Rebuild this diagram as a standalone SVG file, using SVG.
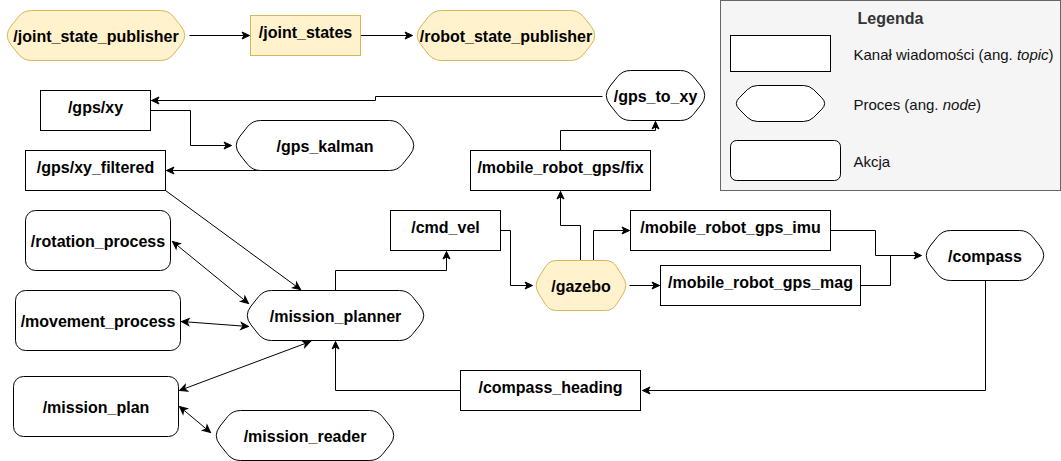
<svg xmlns="http://www.w3.org/2000/svg" width="1061" height="461" viewBox="0 0 1061 461">
<style>
.n{fill:#fff;stroke:#000;stroke-width:1}
.y{fill:#fff2cc;stroke:#d6b656;stroke-width:1}
.t{font-family:"Liberation Sans",Arial,sans-serif;font-size:16px;font-weight:bold;text-anchor:middle;fill:#000}
.l{font-family:"Liberation Sans",Arial,sans-serif;font-size:15px;fill:#111}
.c{fill:none;stroke:#000;stroke-width:1}
.e{marker-end:url(#a)}
.b{marker-start:url(#a);marker-end:url(#a)}
</style>
<defs>
<marker id="a" viewBox="-9 -5 10 10" refX="0" refY="0" markerWidth="10" markerHeight="10" markerUnits="userSpaceOnUse" orient="auto-start-reverse">
<path d="M0,0 L-7.5,-3.5 L-5.5,0 L-7.5,3.5 Z" fill="#000" stroke="#000" stroke-width="1"/>
</marker>
</defs>
<g transform="translate(0.5,0.5)">
<g id="legend">
<rect x="720" y="0" width="340" height="190" fill="#f5f5f5" stroke="#666666"/>
<text x="890" y="23" class="t" style="fill:#333333">Legenda</text>
<rect x="730" y="35" width="100" height="36" class="n"/>
<text x="853" y="59" class="l">Kanał wiadomości (ang. <tspan font-style="italic">topic</tspan>)</text>
<path class="n" d="M757,85 H803 Q809,85 813.2,89.2 L821.3,97.3 Q827,103 821.3,108.7 L813.2,116.8 Q809,121 803,121 H757 Q751,121 746.8,116.8 L738.7,108.7 Q733,103 738.7,97.3 L746.8,89.2 Q751,85 757,85 Z"/>
<text x="853" y="109" class="l">Proces (ang. <tspan font-style="italic">node</tspan>)</text>
<rect x="730" y="140" width="110" height="40" rx="6" class="n"/>
<text x="853" y="166" class="l">Akcja</text>
</g>
<g id="connectors">
<path class="c e" d="M189,35 H249"/>
<path class="c e" d="M360,35 H412"/>
<path class="c e" d="M602,96 H375 V100 H151"/>
<path class="c e" d="M150,110 H190 V145 H231"/>
<path class="c e" d="M324,170 H166"/>
<path class="c e" d="M560,150 V130 H655 V121"/>
<path class="c e" d="M580,260 V225 H560 V191"/>
<path class="c e" d="M593,260 V230 H629"/>
<path class="c e" d="M629,285 H659"/>
<path class="c e" d="M500,230 H510 V285 H532"/>
<path class="c e" d="M335,290 V270 H446 V251"/>
<path class="c e" d="M830,230 H875 V255 H921"/>
<path class="c" d="M860,285 H890 V255"/>
<path class="c e" d="M985,280 V390 H642"/>
<path class="c e" d="M460,390 H335 V341"/>
<path class="c e" d="M165,190 L300,289"/>
<path class="c b" d="M172,241 L248,303"/>
<path class="c b" d="M181,321 L248,326"/>
<path class="c b" d="M179,390 L310,341"/>
<path class="c b" d="M179,406 L210,432"/>
</g>
<g id="joint_state_publisher">
<path class="y" d="M31,10 H160 Q168,10 173,16.25 L180.5,25.625 Q188,35 180.5,44.375 L173,53.75 Q168,60 160,60 H31 Q23,60 18,53.75 L10.5,44.375 Q3,35 10.5,25.625 L18,16.25 Q23,10 31,10 Z"/>
<text x="95.5" y="41" class="t">/joint_state_publisher</text>
</g>
<g id="joint_states">
<rect x="250" y="15" width="110" height="40" class="y"/>
<text x="305" y="37" class="t">/joint_states</text>
</g>
<g id="robot_state_publisher">
<path class="y" d="M441,10 H570 Q578,10 583,16.25 L590.5,25.625 Q598,35 590.5,44.375 L583,53.75 Q578,60 570,60 H441 Q433,60 428,53.75 L420.5,44.375 Q413,35 420.5,25.625 L428,16.25 Q433,10 441,10 Z"/>
<text x="505.5" y="41" class="t">/robot_state_publisher</text>
</g>
<g id="gps_xy">
<rect x="40" y="90" width="110" height="40" class="n"/>
<text x="95" y="112" class="t">/gps/xy</text>
</g>
<g id="gps_kalman">
<path class="n" d="M260,120 H389 Q397,120 402,126.25 L409.5,135.625 Q417,145 409.5,154.375 L402,163.75 Q397,170 389,170 H260 Q252,170 247,163.75 L239.5,154.375 Q232,145 239.5,135.625 L247,126.25 Q252,120 260,120 Z"/>
<text x="324.5" y="151" class="t">/gps_kalman</text>
</g>
<g id="gps_xy_filtered">
<rect x="25" y="150" width="140" height="40" class="n"/>
<text x="95" y="172" class="t">/gps/xy_filtered</text>
</g>
<g id="gps_to_xy">
<path class="n" d="M630,70 H680 Q688,70 693,76.25 L700.5,85.625 Q708,95 700.5,104.375 L693,113.75 Q688,120 680,120 H630 Q622,120 617,113.75 L609.5,104.375 Q602,95 609.5,85.625 L617,76.25 Q622,70 630,70 Z"/>
<text x="655" y="101" class="t">/gps_to_xy</text>
</g>
<g id="mobile_robot_gps_fix">
<rect x="470" y="150" width="180" height="40" class="n"/>
<text x="560" y="172" class="t">/mobile_robot_gps/fix</text>
</g>
<g id="cmd_vel">
<rect x="390" y="210" width="110" height="40" class="n"/>
<text x="445" y="232" class="t">/cmd_vel</text>
</g>
<g id="gazebo">
<path class="y" d="M556,260 H605 Q612,260 615.8,265.9 L622.6,276.6 Q628,285 622.6,293.4 L615.8,304.1 Q612,310 605,310 H556 Q549,310 545.2,304.1 L538.4,293.4 Q533,285 538.4,276.6 L545.2,265.9 Q549,260 556,260 Z"/>
<text x="580.5" y="291" class="t">/gazebo</text>
</g>
<g id="mobile_robot_gps_imu">
<rect x="630" y="210" width="200" height="40" class="n"/>
<text x="730" y="232" class="t">/mobile_robot_gps_imu</text>
</g>
<g id="mobile_robot_gps_mag">
<rect x="660" y="265" width="200" height="40" class="n"/>
<text x="760" y="287" class="t">/mobile_robot_gps_mag</text>
</g>
<g id="compass">
<path class="n" d="M950,230 H1019 Q1027,230 1032,236.25 L1039.5,245.625 Q1047,255 1039.5,264.375 L1032,273.75 Q1027,280 1019,280 H950 Q942,280 937,273.75 L929.5,264.375 Q922,255 929.5,245.625 L937,236.25 Q942,230 950,230 Z"/>
<text x="984.5" y="261" class="t">/compass</text>
</g>
<g id="rotation_process">
<rect x="25" y="210" width="145" height="60" rx="10" class="n"/>
<text x="97.5" y="246" class="t">/rotation_process</text>
</g>
<g id="movement_process">
<rect x="15" y="290" width="165" height="60" rx="10" class="n"/>
<text x="97.5" y="326" class="t">/movement_process</text>
</g>
<g id="mission_planner">
<path class="n" d="M271,290 H399 Q407,290 412,296.25 L419.5,305.625 Q427,315 419.5,324.375 L412,333.75 Q407,340 399,340 H271 Q263,340 258,333.75 L250.5,324.375 Q243,315 250.5,305.625 L258,296.25 Q263,290 271,290 Z"/>
<text x="335" y="321" class="t">/mission_planner</text>
</g>
<g id="mission_plan">
<rect x="13" y="376" width="165" height="60" rx="10" class="n"/>
<text x="95.5" y="412" class="t">/mission_plan</text>
</g>
<g id="mission_reader">
<path class="n" d="M240,410 H369 Q377,410 382,416.25 L389.5,425.625 Q397,435 389.5,444.375 L382,453.75 Q377,460 369,460 H240 Q232,460 227,453.75 L219.5,444.375 Q212,435 219.5,425.625 L227,416.25 Q232,410 240,410 Z"/>
<text x="304.5" y="441" class="t">/mission_reader</text>
</g>
<g id="compass_heading">
<rect x="460" y="370" width="180" height="40" class="n"/>
<text x="550" y="392" class="t">/compass_heading</text>
</g>
</g>
</svg>
